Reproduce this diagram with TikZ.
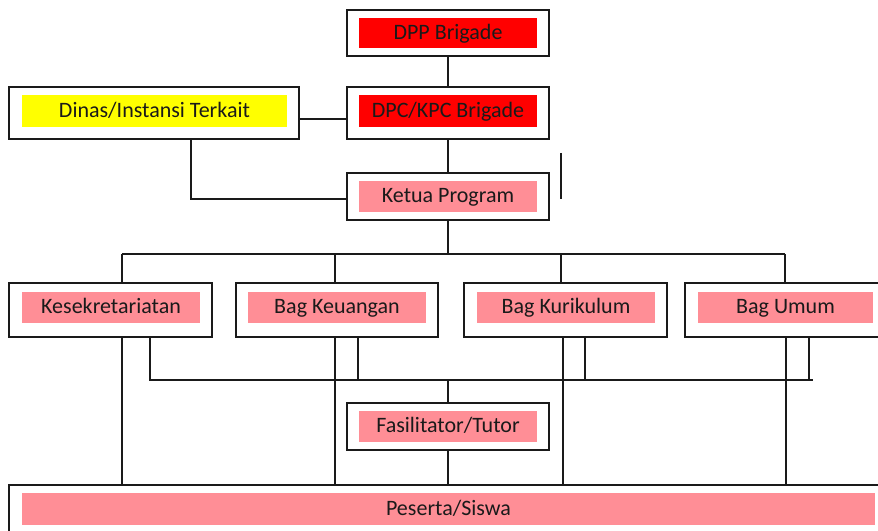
\documentclass[tikz,border=0pt]{standalone}
\usepackage{fontspec}
\setmainfont{Carlito}
\usetikzlibrary{calc}
\definecolor{boxred}{HTML}{FF0000}
\definecolor{boxpink}{HTML}{FF8E96}
\definecolor{boxyellow}{HTML}{FFFF00}
\definecolor{ink}{HTML}{1A1A1A}
\begin{document}
\begin{tikzpicture}[x=0.75pt,y=-0.75pt,
  outerbox/.style={draw=ink, line width=1.2pt, inner sep=0pt, fill=white},
  innerbox/.style={inner sep=0pt, text=ink, text height=12pt, text depth=2.6pt, font=\fontsize{16.5}{19}\selectfont},
  conn/.style={draw=ink, line width=0.9pt}]
\useasboundingbox (0,0) rectangle (878,531);
\clip (0,0) rectangle (878,531);
% top column
\node[outerbox, minimum width=151.5pt, minimum height=34.5pt] (dpp) at (448,33) {};
\node[innerbox, fill=boxred, minimum width=133.5pt, minimum height=22.5pt] (dppi) at (448,33) {DPP Brigade};
\node[outerbox, minimum width=151.5pt, minimum height=39pt] (dpc) at (448,113) {};
\node[innerbox, fill=boxred, minimum width=133.5pt, minimum height=24pt] (dpci) at (448,111) {DPC/KPC Brigade};
\node[outerbox, minimum width=217.5pt, minimum height=39pt] (dinas) at (154,113) {};
\node[innerbox, fill=boxyellow, minimum width=198.75pt, minimum height=24pt] (dinasi) at (154.5,111) {Dinas/Instansi Terkait};
\node[outerbox, minimum width=151.5pt, minimum height=35.25pt] (ketua) at (448,196.5) {};
\node[innerbox, fill=boxpink, minimum width=133.5pt, minimum height=23.25pt] (ketuai) at (448,196.5) {Ketua Program};
% level 4
\node[outerbox, minimum width=152.25pt, minimum height=40.5pt] (kesek) at (110.5,310) {};
\node[innerbox, fill=boxpink, minimum width=133.5pt, minimum height=23.25pt] (keseki) at (111,307.5) {Kesekretariatan};
\node[outerbox, minimum width=151.5pt, minimum height=40.5pt] (keu) at (337,310) {};
\node[innerbox, fill=boxpink, minimum width=133.5pt, minimum height=23.25pt] (keui) at (337,307.5) {Bag Keuangan};
\node[outerbox, minimum width=152.25pt, minimum height=40.5pt] (kur) at (565.5,310) {};
\node[innerbox, fill=boxpink, minimum width=133.5pt, minimum height=23.25pt] (kuri) at (566,307.5) {Bag Kurikulum};
\node[outerbox, minimum width=150.75pt, minimum height=40.5pt] (umum) at (785.5,310) {};
\node[innerbox, fill=boxpink, minimum width=131.25pt, minimum height=23.25pt] (umumi) at (785.5,307.5) {Bag Umum};
% fasilitator and peserta
\node[outerbox, minimum width=151.5pt, minimum height=35.25pt] (fas) at (448,426.5) {};
\node[innerbox, fill=boxpink, minimum width=133.5pt, minimum height=23.25pt] (fasi) at (448,426.5) {Fasilitator/Tutor};
\node[outerbox, minimum width=659.25pt, minimum height=37.5pt] (pes) at (448.5,510) {};
\node[innerbox, fill=boxpink, minimum width=639.75pt, minimum height=24pt] (pesi) at (448.5,509) {Peserta/Siswa};
% coordinates
\coordinate (dx) at (191,0);
\coordinate (s1) at (561,153);
\coordinate (s2) at (561,199);
\coordinate (b1) at (122,254);
\coordinate (b2) at (335,254);
\coordinate (b3) at (561,254);
\coordinate (b4) at (785,254);
\coordinate (c1) at (150,380);
\coordinate (c2) at (358,380);
\coordinate (c3) at (585,380);
\coordinate (c4) at (809,380);
\coordinate (cR) at (813,380);
\coordinate (d1) at (122,0);
\coordinate (d2) at (335,0);
\coordinate (d3) at (563,0);
\coordinate (d4) at (786,0);
% connectors
\draw[conn] (dpp.south) -- (dpc.north);
\draw[conn] ($(dinas.east)+(0,6)$) -- ($(dpc.west)+(0,6)$);
\draw[conn] (dpc.south) -- (ketua.north);
\draw[conn] (dinas.south -| dx) |- ($(ketua.west)+(0,2.5)$);
\draw[conn] (s1) -- (s2);
\draw[conn] (ketua.south) -- (ketua.south |- b1);
\draw[conn] (b1) -- (b4);
\draw[conn] (b1) -- (b1 |- kesek.north);
\draw[conn] (b2) -- (b2 |- keu.north);
\draw[conn] (b3) -- (b3 |- kur.north);
\draw[conn] (b4) -- (b4 |- umum.north);
\draw[conn] (c1 |- kesek.south) -- (c1) -- (cR);
\draw[conn] (c2 |- keu.south) -- (c2);
\draw[conn] (c3 |- kur.south) -- (c3);
\draw[conn] (c4 |- umum.south) -- (c4);
\draw[conn] (d1 |- kesek.south) -- (d1 |- pes.north);
\draw[conn] (d2 |- keu.south) -- (d2 |- pes.north);
\draw[conn] (d3 |- kur.south) -- (d3 |- pes.north);
\draw[conn] (d4 |- umum.south) -- (d4 |- pes.north);
\draw[conn] (fas.north) -- (fas.north |- c1);
\draw[conn] (fas.south) -- (fas.south |- pes.north);
\end{tikzpicture}
\end{document}
